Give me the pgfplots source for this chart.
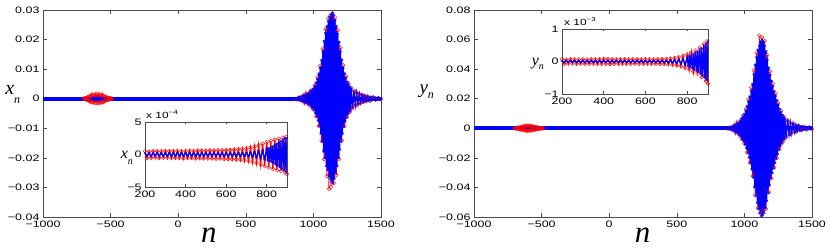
\documentclass[border=0pt]{standalone}
\usepackage{fontspec}
\setmainfont{Liberation Sans}
\newfontfamily\tickfont[FakeStretch=1.33]{Liberation Sans}
\newfontfamily\labfont{Liberation Serif}
\usepackage{pgfplots}
\pgfplotsset{compat=1.18}
\usepackage{pgfplotstable}
\usetikzlibrary{plotmarks}
\definecolor{mred}{rgb}{1,0,0}
\definecolor{mblue}{rgb}{0,0,1}

\pgfplotstableread[row sep=\\]{n v\\
-700 0.0001\\ -695 -0.0001\\ -690 0.0002\\ -685 -0.0002\\ -680 0.0003\\ -675 -0.0004\\ -670 0.0005\\ -665 -0.0006\\ -660 0.0007\\ -655 -0.0008\\ -650 0.0009\\ -645 -0.0010\\ -640 0.0011\\ -635 -0.0012\\ -630 0.0013\\ -625 -0.0013\\ -620 0.0014\\ -615 -0.0014\\ -610 0.0015\\ -605 -0.0015\\ -600 0.0015\\ -595 -0.0015\\ -590 0.0015\\ -585 -0.0014\\ -580 0.0014\\ -575 -0.0013\\ -570 0.0013\\ -565 -0.0012\\ -560 0.0011\\ -555 -0.0010\\ -550 0.0009\\ -545 -0.0008\\ -540 0.0007\\ -535 -0.0006\\ -530 0.0005\\ -525 -0.0004\\ -520 0.0003\\ -515 -0.0003\\ -510 0.0002\\ -505 -0.0002\\ -500 0.0001\\ -495 -0.0001\\ -490 0.0001\\
}\bump

\pgfplotsset{
  mbase/.style={
    scale only axis,
    anchor=south west,
    scaled ticks=false,
    axis line style={draw=black!70, line width=0.6bp},
    every tick/.style={draw=black!70, line width=0.5bp},
    tick align=inside,
    major tick length=4bp,
    ticklabel style={font=\tickfont\fontsize{9.4}{11}\selectfont},
    axis background/.style={fill=white},
    clip=true,
  },
  redser/.style={draw=mred, line width=0.9bp, mark=o, mark size=1.9bp, mark options={draw=mred, fill=none, line width=0.4bp}},
  blueser/.style={draw=mblue, line width=1.2bp, mark=asterisk, mark size=1.6bp, mark options={draw=mblue, line width=0.45bp}},
}

\begin{document}
\begin{tikzpicture}
\useasboundingbox (0,0) rectangle (830bp,249bp);

% ---------------- left main ----------------
\begin{axis}[mbase, at={(43bp,32bp)}, width=338bp, height=207bp,
  xmin=-1000, xmax=1500, ymin=-0.04, ymax=0.03,
  xtick={-1000,-500,0,500,1000,1500},
  xticklabels={−1000,−500,0,500,1000,1500},
  ytick={-0.04,-0.03,-0.02,-0.01,0,0.01,0.02,0.03},
  yticklabels={−0.04,−0.03,−0.02,−0.01,0,0.01,0.02,0.03},
  xlabel={\labfont\itshape n},
  xlabel style={at={(axis description cs:0.491,-0.1256)}, anchor=base, font=\fontsize{31}{31}\selectfont},
  ylabel={{\labfont\itshape x}\raisebox{-9bp}{\fontsize{12}{12}\selectfont\labfont\itshape n}},
  ylabel style={rotate=-90, at={(axis description cs:-0.122,0.594)}, anchor=base west, font=\fontsize{20}{20}\selectfont},
]
\addplot[redser] table[x=n,y=v] {\bump};
\addplot[redser] coordinates {
(880,-0.0003) (890,0.0004) (900,-0.0005) (910,0.0006) (920,-0.0008) (930,0.0010) (940,-0.0012) (950,0.0015) (960,-0.0018) (970,0.0021) (980,-0.0026) (990,0.0031) (1000,-0.0037) (1010,0.0046) (1020,-0.0060) (1030,0.0072) (1040,-0.0092) (1050,0.0112) (1060,-0.0142) (1070,0.0170) (1080,-0.0205) (1090,0.0236) (1100,-0.0262) (1110,0.0272) (1115,-0.0305) (1120,0.0280) (1130,-0.0298) (1140,0.0288) (1150,-0.0285) (1160,0.0275) (1170,-0.0258) (1180,0.0232) (1190,-0.0205) (1200,0.0172) (1210,-0.0142) (1220,0.0113) (1230,-0.0092) (1240,0.0076) (1250,-0.0062) (1260,0.0052) (1270,-0.0044) (1280,0.0037) (1290,-0.0032) (1300,0.0027) (1310,-0.0024) (1320,0.0021) (1330,-0.0018) (1340,0.0016) (1350,-0.0014) (1360,0.0013) (1370,-0.0011) (1380,0.0010) (1390,-0.0009) (1400,0.0008) (1420,-0.0007) (1440,0.0006) (1460,-0.0004) (1480,0.0003) (1500,-0.0002)
};
\addplot[draw=mblue, line width=3.6bp, no markers] coordinates {(-1000,0) (1500,0)};
\addplot[blueser] coordinates {
(880,0.0002) (885,-0.0002) (890,0.0003) (895,-0.0003) (900,0.0004) (905,-0.0004) (910,0.0005) (915,-0.0006) (920,0.0007) (925,-0.0007) (930,0.0009) (935,-0.0009) (940,0.0011) (945,-0.0012) (950,0.0013) (955,-0.0014) (960,0.0016) (965,-0.0017) (970,0.0019) (975,-0.0021) (980,0.0024) (985,-0.0026) (990,0.0029) (995,-0.0031) (1000,0.0034) (1005,-0.0038) (1010,0.0043) (1015,-0.0048) (1020,0.0055) (1025,-0.0060) (1030,0.0066) (1035,-0.0074) (1040,0.0085) (1045,-0.0092) (1050,0.0105) (1055,-0.0118) (1060,0.0130) (1065,-0.0145) (1070,0.0160) (1075,-0.0178) (1080,0.0195) (1085,-0.0200) (1090,0.0222) (1095,-0.0228) (1100,0.0245) (1105,-0.0240) (1110,0.0262) (1115,-0.0262) (1120,0.0275) (1125,-0.0270) (1130,0.0283) (1135,-0.0280) (1140,0.0290) (1145,-0.0287) (1150,0.0282) (1155,-0.0270) (1160,0.0265) (1165,-0.0250) (1170,0.0245) (1175,-0.0228) (1180,0.0220) (1185,-0.0200) (1190,0.0192) (1195,-0.0172) (1200,0.0160) (1205,-0.0145) (1210,0.0132) (1215,-0.0118) (1220,0.0105) (1225,-0.0095) (1230,0.0086) (1235,-0.0077) (1240,0.0070) (1245,-0.0063) (1250,0.0057) (1255,-0.0052) (1260,0.0048) (1265,-0.0044) (1270,0.0040) (1275,-0.0037) (1280,0.0034) (1290,-0.0030) (1300,0.0025) (1310,-0.0022) (1320,0.0019) (1330,-0.0017) (1340,0.0015) (1350,-0.0013) (1360,0.0012) (1370,-0.0010) (1380,0.0009) (1390,-0.0008) (1400,0.0007) (1410,-0.0006) (1420,0.0006) (1430,-0.0005) (1440,0.0005) (1450,-0.0004) (1460,0.0003) (1470,-0.0003) (1480,0.0003) (1490,-0.0002) (1500,0.0002)
};
\end{axis}

% ---------------- left inset ----------------
\begin{axis}[mbase, name=inL, at={(145bp,62bp)}, width=142bp, height=65bp,
  major tick length=2.5bp,
  xmin=200, xmax=900, ymin=-5e-4, ymax=5e-4,
  xtick={200,400,600,800}, xticklabels={200,400,600,800},
  ytick={-5e-4,0,5e-4}, yticklabels={−5,0,5},
  ylabel={{\labfont\itshape x}\raisebox{-6bp}{\fontsize{10}{10}\selectfont\labfont\itshape n}},
  ylabel style={rotate=-90, at={(axis description cs:-0.195,0.431)}, anchor=base west, font=\fontsize{16}{16}\selectfont},
]
\addplot[redser, line width=1.2bp] coordinates {
(200,0.5e-4) (210,-0.55e-4) (220,0.45e-4) (230,-0.5e-4) (240,0.55e-4) (250,-0.45e-4) (260,0.5e-4) (270,-0.55e-4) (280,0.5e-4) (290,-0.5e-4) (300,0.55e-4) (310,-0.5e-4) (320,0.5e-4) (330,-0.55e-4) (340,0.55e-4) (350,-0.5e-4) (360,0.55e-4) (370,-0.55e-4) (380,0.5e-4) (390,-0.6e-4) (400,0.55e-4) (410,-0.55e-4) (420,0.6e-4) (430,-0.55e-4) (440,0.55e-4) (450,-0.6e-4) (460,0.6e-4) (470,-0.55e-4) (480,0.6e-4) (490,-0.6e-4) (500,0.6e-4) (510,-0.6e-4) (520,0.65e-4) (530,-0.6e-4) (540,0.6e-4) (550,-0.65e-4) (560,0.65e-4) (570,-0.6e-4) (580,0.65e-4) (590,-0.7e-4) (600,0.65e-4) (610,-0.7e-4) (620,0.7e-4) (630,-0.7e-4) (640,0.75e-4) (650,-0.75e-4) (660,0.8e-4) (670,-0.8e-4) (680,0.85e-4) (690,-0.9e-4) (700,0.9e-4) (710,-1.0e-4) (720,1.05e-4) (730,-1.15e-4) (740,1.2e-4) (750,-1.3e-4) (760,1.4e-4) (770,-1.55e-4) (780,1.65e-4) (790,-1.8e-4) (800,1.9e-4) (810,-2.0e-4) (820,2.1e-4) (830,-2.2e-4) (840,2.3e-4) (850,-2.4e-4) (860,2.45e-4) (870,-2.5e-4) (880,2.6e-4) (890,-2.75e-4) (895,2.7e-4) (900,-3.0e-4)
};
\addplot[blueser, mark size=1.3bp, line width=1.2bp] coordinates {
(200,0.2e-4) (210,-0.2e-4) (220,0.2e-4) (230,-0.25e-4) (240,0.2e-4) (250,-0.2e-4) (260,0.25e-4) (270,-0.2e-4) (280,0.2e-4) (290,-0.2e-4) (300,0.2e-4) (310,-0.25e-4) (320,0.2e-4) (330,-0.2e-4) (340,0.2e-4) (350,-0.2e-4) (360,0.25e-4) (370,-0.2e-4) (380,0.2e-4) (390,-0.2e-4) (400,0.2e-4) (410,-0.2e-4) (420,0.25e-4) (430,-0.2e-4) (440,0.2e-4) (450,-0.2e-4) (460,0.2e-4) (470,-0.25e-4) (480,0.2e-4) (490,-0.2e-4) (500,0.2e-4) (510,-0.2e-4) (520,0.2e-4) (530,-0.2e-4) (540,0.25e-4) (550,-0.2e-4) (560,0.2e-4) (570,-0.2e-4) (580,0.2e-4) (590,-0.25e-4) (600,0.2e-4) (610,-0.2e-4) (620,0.2e-4) (630,-0.2e-4) (640,0.2e-4) (650,-0.2e-4) (660,0.2e-4) (670,-0.2e-4) (680,0.25e-4) (690,-0.2e-4) (700,0.25e-4) (710,-0.25e-4) (720,0.28e-4) (730,-0.3e-4) (740,0.35e-4) (750,-0.4e-4) (760,0.45e-4) (770,-0.5e-4) (780,0.6e-4) (790,-0.7e-4) (800,0.8e-4) (805,-0.9e-4) (810,0.95e-4) (815,-1.0e-4) (820,1.1e-4) (825,-1.15e-4) (830,1.25e-4) (835,-1.35e-4) (840,1.45e-4) (845,-1.55e-4) (850,1.65e-4) (855,-1.75e-4) (860,1.85e-4) (865,-1.95e-4) (870,2.05e-4) (875,-2.15e-4) (880,2.25e-4) (885,-2.4e-4) (890,2.5e-4) (895,-2.65e-4) (900,2.5e-4)
};
\end{axis}
\node[anchor=base west, inner sep=0pt, font=\tickfont\fontsize{9}{10}\selectfont] at ([xshift=1bp,yshift=3.5bp]inL.north west) {x 10\textsuperscript{−4}};

% ---------------- right main ----------------
\begin{axis}[mbase, at={(474bp,32bp)}, width=338bp, height=207bp,
  xmin=-1000, xmax=1500, ymin=-0.06, ymax=0.08,
  xtick={-1000,-500,0,500,1000,1500},
  xticklabels={−1000,−500,0,500,1000,1500},
  ytick={-0.06,-0.04,-0.02,0,0.02,0.04,0.06,0.08},
  yticklabels={−0.06,−0.04,−0.02,0,0.02,0.04,0.06,0.08},
  xlabel={\labfont\itshape n},
  xlabel style={at={(axis description cs:0.4985,-0.1256)}, anchor=base, font=\fontsize{31}{31}\selectfont},
  ylabel={{\labfont\itshape y}\raisebox{-5bp}{\fontsize{12}{12}\selectfont\labfont\itshape n}},
  ylabel style={rotate=-90, at={(axis description cs:-0.1716,0.599)}, anchor=base west, font=\fontsize{19}{19}\selectfont},
]
\addplot[redser] table[x=n,y=v] {\bump};
\addplot[redser] coordinates {
(880,-0.0004) (890,0.0005) (900,-0.0007) (910,0.0010) (920,-0.0014) (930,0.0019) (940,-0.0025) (950,0.0033) (960,-0.0042) (970,0.0055) (980,-0.0071) (990,0.0087) (1000,-0.0104) (1010,0.0130) (1020,-0.0162) (1030,0.0195) (1040,-0.0232) (1050,0.0275) (1060,-0.0322) (1070,0.0392) (1080,-0.0452) (1090,0.0510) (1100,-0.0540) (1110,0.0627) (1120,-0.0575) (1130,0.0615) (1140,-0.0557) (1150,0.0590) (1160,-0.0545) (1170,0.0495) (1180,-0.0432) (1190,0.0385) (1200,-0.0338) (1210,0.0302) (1220,-0.0265) (1230,0.0235) (1240,-0.0202) (1250,0.0172) (1260,-0.0140) (1270,0.0118) (1280,-0.0097) (1290,0.0081) (1300,-0.0069) (1320,0.0054) (1340,-0.0041) (1360,0.0032) (1380,-0.0024) (1400,0.0018) (1420,-0.0014) (1440,0.0011) (1460,-0.0009) (1480,0.0007) (1500,-0.0005)
};
\addplot[draw=mblue, line width=3.6bp, no markers] coordinates {(-1000,0) (1500,0)};
\addplot[blueser] coordinates {
(880,0.0003) (885,-0.0004) (890,0.00045) (895,-0.0005) (900,0.0006) (905,-0.0008) (910,0.0009) (915,-0.0010) (920,0.0012) (925,-0.0015) (930,0.0017) (935,-0.0020) (940,0.0022) (945,-0.0026) (950,0.0030) (955,-0.0034) (960,0.0038) (965,-0.0044) (970,0.0050) (975,-0.0057) (980,0.0065) (985,-0.0072) (990,0.0080) (995,-0.0087) (1000,0.0095) (1005,-0.0108) (1010,0.0120) (1015,-0.0135) (1020,0.0150) (1025,-0.0165) (1030,0.0180) (1035,-0.0198) (1040,0.0215) (1045,-0.0235) (1050,0.0255) (1055,-0.0278) (1060,0.0300) (1065,-0.0332) (1070,0.0365) (1075,-0.0398) (1080,0.0430) (1085,-0.0455) (1090,0.0480) (1095,-0.0505) (1100,0.0530) (1105,-0.0545) (1110,0.0560) (1115,-0.0572) (1120,0.0585) (1125,-0.0592) (1130,0.0600) (1135,-0.0585) (1140,0.0585) (1145,-0.0572) (1150,0.0560) (1155,-0.0540) (1160,0.0520) (1165,-0.0492) (1170,0.0465) (1175,-0.0438) (1180,0.0410) (1185,-0.0385) (1190,0.0360) (1195,-0.0340) (1200,0.0320) (1205,-0.0302) (1210,0.0285) (1215,-0.0268) (1220,0.0250) (1225,-0.0235) (1230,0.0220) (1235,-0.0205) (1240,0.0190) (1245,-0.0175) (1250,0.0160) (1255,-0.0145) (1260,0.0130) (1265,-0.0120) (1270,0.0110) (1275,-0.0100) (1280,0.0090) (1285,-0.0082) (1290,0.0075) (1295,-0.0070) (1300,0.0065) (1310,-0.0057) (1320,0.0050) (1330,-0.0044) (1340,0.0038) (1350,-0.0034) (1360,0.0030) (1370,-0.0026) (1380,0.0022) (1390,-0.0019) (1400,0.0017) (1410,-0.0015) (1420,0.0013) (1430,-0.0011) (1440,0.0010) (1450,-0.0009) (1460,0.0008) (1470,-0.0007) (1480,0.0006) (1490,-0.0005) (1500,0.0005)
};
\end{axis}

% ---------------- right inset ----------------
\begin{axis}[mbase, name=inR, at={(562bp,155bp)}, width=146bp, height=65bp,
  major tick length=2.5bp,
  xmin=200, xmax=900, ymin=-1e-3, ymax=1e-3,
  xtick={200,400,600,800}, xticklabels={200,400,600,800},
  ytick={-1e-3,0,1e-3}, yticklabels={−1,0,1},
  ylabel={{\labfont\itshape y}\raisebox{-4bp}{\fontsize{10}{10}\selectfont\labfont\itshape n}},
  ylabel style={rotate=-90, at={(axis description cs:-0.231,0.446)}, anchor=base west, font=\fontsize{16}{16}\selectfont},
]
\addplot[redser, line width=1.2bp] coordinates {
(200,0.07e-3) (210,-0.07e-3) (220,0.06e-3) (230,-0.07e-3) (240,0.07e-3) (250,-0.06e-3) (260,0.07e-3) (270,-0.07e-3) (280,0.06e-3) (290,-0.07e-3) (300,0.07e-3) (310,-0.07e-3) (320,0.06e-3) (330,-0.07e-3) (340,0.07e-3) (350,-0.07e-3) (360,0.07e-3) (370,-0.08e-3) (380,0.07e-3) (390,-0.08e-3) (400,0.08e-3) (410,-0.07e-3) (420,0.08e-3) (430,-0.08e-3) (440,0.07e-3) (450,-0.07e-3) (460,0.07e-3) (470,-0.07e-3) (480,0.07e-3) (490,-0.07e-3) (500,0.07e-3) (510,-0.07e-3) (520,0.07e-3) (530,-0.07e-3) (540,0.07e-3) (550,-0.07e-3) (560,0.07e-3) (570,-0.07e-3) (580,0.07e-3) (590,-0.07e-3) (600,0.07e-3) (610,-0.07e-3) (620,0.07e-3) (630,-0.07e-3) (640,0.07e-3) (650,-0.07e-3) (660,0.07e-3) (670,-0.08e-3) (680,0.08e-3) (690,-0.08e-3) (700,0.08e-3) (710,-0.09e-3) (720,0.09e-3) (730,-0.10e-3) (740,0.11e-3) (750,-0.12e-3) (760,0.13e-3) (770,-0.15e-3) (780,0.17e-3) (790,-0.19e-3) (800,0.21e-3) (810,-0.24e-3) (820,0.27e-3) (830,-0.30e-3) (840,0.34e-3) (850,-0.38e-3) (860,0.43e-3) (870,-0.48e-3) (880,0.54e-3) (890,-0.60e-3) (895,0.62e-3) (900,-0.68e-3)
};
\addplot[blueser, mark size=1.3bp, line width=1.2bp] coordinates {
(200,0.02e-3) (210,-0.02e-3) (220,0.02e-3) (230,-0.02e-3) (240,0.02e-3) (250,-0.02e-3) (260,0.02e-3) (270,-0.02e-3) (280,0.02e-3) (290,-0.02e-3) (300,0.02e-3) (310,-0.02e-3) (320,0.02e-3) (330,-0.02e-3) (340,0.02e-3) (350,-0.02e-3) (360,0.02e-3) (370,-0.02e-3) (380,0.02e-3) (390,-0.02e-3) (400,0.02e-3) (410,-0.02e-3) (420,0.02e-3) (430,-0.02e-3) (440,0.02e-3) (450,-0.02e-3) (460,0.02e-3) (470,-0.02e-3) (480,0.02e-3) (490,-0.02e-3) (500,0.02e-3) (510,-0.02e-3) (520,0.02e-3) (530,-0.02e-3) (540,0.02e-3) (550,-0.02e-3) (560,0.02e-3) (570,-0.02e-3) (580,0.02e-3) (590,-0.02e-3) (600,0.02e-3) (610,-0.02e-3) (620,0.02e-3) (630,-0.02e-3) (640,0.02e-3) (650,-0.02e-3) (660,0.02e-3) (670,-0.02e-3) (680,0.02e-3) (690,-0.02e-3) (700,0.02e-3) (710,-0.025e-3) (720,0.03e-3) (730,-0.035e-3) (740,0.04e-3) (750,-0.05e-3) (760,0.06e-3) (770,-0.07e-3) (780,0.08e-3) (790,-0.10e-3) (800,0.12e-3) (805,-0.13e-3) (810,0.15e-3) (815,-0.16e-3) (820,0.18e-3) (825,-0.20e-3) (830,0.22e-3) (835,-0.24e-3) (840,0.26e-3) (845,-0.28e-3) (850,0.30e-3) (855,-0.32e-3) (860,0.34e-3) (865,-0.37e-3) (870,0.40e-3) (875,-0.43e-3) (880,0.46e-3) (885,-0.50e-3) (890,0.54e-3) (895,-0.57e-3) (900,0.62e-3)
};
\end{axis}
\node[anchor=base west, inner sep=0pt, font=\tickfont\fontsize{9}{10}\selectfont] at ([xshift=2bp,yshift=3.5bp]inR.north west) {x 10\textsuperscript{−3}};

\end{tikzpicture}
\end{document}
